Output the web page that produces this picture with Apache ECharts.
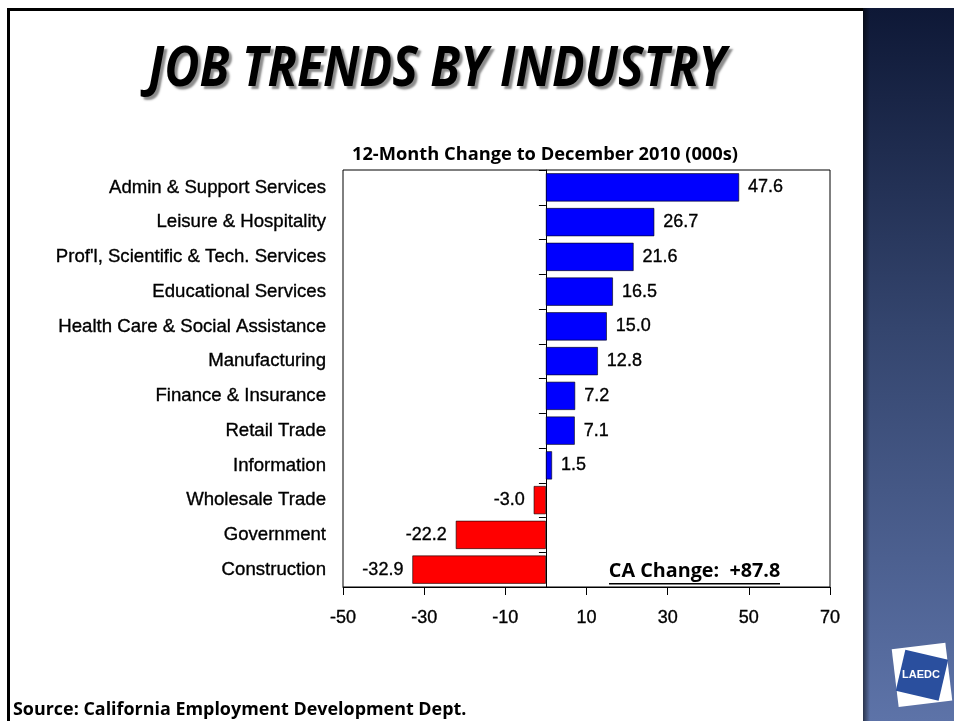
<!DOCTYPE html>
<html>
<head>
<meta charset="utf-8">
<script src="https://cdn.jsdelivr.net/npm/echarts@6/dist/echarts.min.js"></script>
<style>html,body{margin:0;padding:0;background:#fff;}#c{width:954px;height:721px;}</style>
</head>
<body>
<div id="c"></div>
<script>
const categories = ['Admin & Support Services','Leisure & Hospitality',"Prof'l, Scientific & Tech. Services",'Educational Services','Health Care & Social Assistance','Manufacturing','Finance & Insurance','Retail Trade','Information','Wholesale Trade','Government','Construction'];
const values = [47.6,26.7,21.6,16.5,15.0,12.8,7.2,7.1,1.5,-3.0,-22.2,-32.9];
const tickValues = [-50,-30,-10,10,30,50,70];
const titleText = 'JOB TRENDS BY INDUSTRY';
const subtitleText = '12-Month Change to December 2010 (000s)';
const totalText = 'CA Change:  +87.8';
const sourceText = 'Source: California Employment Development Dept.';

const chart = echarts.init(document.getElementById('c'), null, {renderer:'canvas'});
const F = 'Liberation Sans, Arial, sans-serif';
const heavy = {textBorderColor: '#000', textBorderWidth: 0.35};
const option = {
  animation: false,
  backgroundColor: '#fff',
  grid: {left: 343, right: 124, top: 170, bottom: 134, show: true, borderColor: '#000', borderWidth: 1, containLabel: false},
  xAxis: {
    type: 'value', min: -50, max: 70, position: 'bottom',
    splitLine: {show: false},
    axisLine: {show: true, onZero: false, lineStyle: {color: '#000', width: 1}},
    axisTick: {show: true, length: 8, customValues: tickValues, lineStyle: {color: '#000', width: 1}},
    axisLabel: Object.assign({customValues: tickValues, color: '#000', fontSize: 18, fontFamily: F, margin: 22}, heavy)
  },
  yAxis: [
    {
      type: 'category', data: categories, inverse: true,
      axisLine: {show: false, onZero: false},
      axisTick: {show: false},
      axisLabel: Object.assign({color: '#000', fontSize: 18.6, fontFamily: F, margin: 17}, heavy)
    },
    {
      type: 'category', data: categories, inverse: true, position: 'left',
      axisLine: {show: true, onZero: true, onZeroAxisIndex: 0, lineStyle: {color: '#000', width: 1}},
      axisTick: {show: true, length: 7, lineStyle: {color: '#000', width: 1}},
      axisLabel: {show: false}
    }
  ],
  series: [{
    type: 'bar', yAxisIndex: 0, barCategoryGap: '19%',
    data: values.map(v => ({value: v, itemStyle: {color: v >= 0 ? '#0000ff' : '#ff0000'},
      label: {position: v >= 0 ? 'right' : 'left'}})),
    itemStyle: {borderColor: '#000', borderWidth: 0.6},
    label: Object.assign({show: true, color: '#000', fontSize: 18, fontFamily: F, distance: 9,
      formatter: p => p.value.toFixed(1)}, heavy)
  }],
  graphic: [
    // right decorative panel
    {type: 'rect', shape: {x: 863, y: 8, width: 91, height: 713}, silent: true,
      style: {fill: new echarts.graphic.LinearGradient(0,0,0,1,[{offset:0,color:'#0e1836'},{offset:0.45,color:'#34456e'},{offset:1,color:'#5d73a8'}])}},
    {type: 'rect', shape: {x: 863, y: 8, width: 7, height: 713}, silent: true,
      style: {fill: new echarts.graphic.LinearGradient(0,0,1,0,[{offset:0,color:'rgba(0,0,0,0.55)'},{offset:1,color:'rgba(0,0,0,0)'}])}},
    // frame
    {type: 'rect', shape: {x: 7, y: 8, width: 856, height: 3}, style: {fill: '#000'}, silent: true},
    {type: 'rect', shape: {x: 7, y: 8, width: 3, height: 713}, style: {fill: '#000'}, silent: true},
    // title
    {type: 'text', x: 437, y: 70, scaleX: 0.862, silent: true,
      style: {text: titleText, x: 0, y: 0, align: 'center', verticalAlign: 'middle',
        fontSize: 56, fontWeight: 'bold', fontStyle: 'italic', fontFamily: 'Open Sans, sans-serif', fill: '#000',
        textShadowColor: 'rgba(0,0,0,0.45)', textShadowOffsetX: 3, textShadowOffsetY: 3, textShadowBlur: 2}},
    // subtitle
    {type: 'text', x: 545, y: 155, scaleX: 1.016, silent: true,
      style: {text: subtitleText, x: 0, y: 0, align: 'center', verticalAlign: 'middle',
        fontSize: 18, fontWeight: 'bold', fontFamily: 'Open Sans, sans-serif', fill: '#000'}},
    // CA change
    {type: 'text', x: 694.5, y: 572, scaleX: 1.04, silent: true,
      style: {text: totalText, x: 0, y: 0, align: 'center', verticalAlign: 'middle',
        fontSize: 19, fontWeight: 'bold', fontFamily: 'Open Sans, sans-serif', fill: '#000'}},
    {type: 'rect', shape: {x: 609, y: 583, width: 171, height: 1.5}, style: {fill: '#000'}, silent: true},
    // source
    {type: 'text', x: 13, y: 710, scaleX: 0.995, silent: true,
      style: {text: sourceText, x: 0, y: 0, align: 'left', verticalAlign: 'middle',
        fontSize: 18, fontWeight: 'bold', fontFamily: 'Open Sans, sans-serif', fill: '#000'}},
    // logo
    {type: 'group', x: 921, y: 675, rotation: 0.12, silent: true, children: [
      {type: 'rect', shape: {x: -26, y: -29, width: 54, height: 58}, style: {fill: '#fff'}},
      {type: 'rect', shape: {x: -21, y: -21, width: 44, height: 42}, rotation: -0.35, style: {fill: '#2a4f9e'}},
      {type: 'text', x: 0, y: 0, rotation: -0.12, style: {text: 'LAEDC', x: 0, y: 0, align: 'center', verticalAlign: 'middle', fontSize: 11, fontWeight: 'bold', fontFamily: F, fill: '#fff'}}
    ]}
  ]
};
chart.setOption(option);
</script>
</body>
</html>
